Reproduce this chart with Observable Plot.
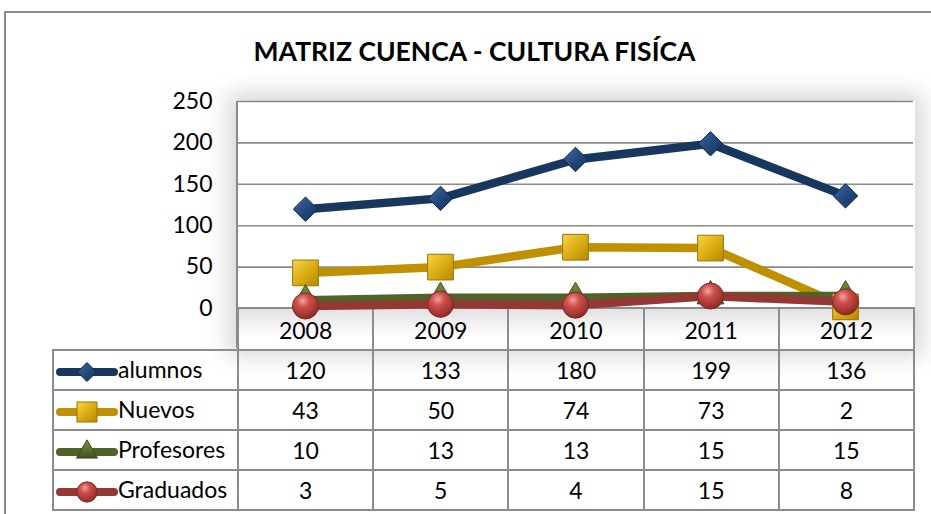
<!DOCTYPE html>
<html><head><meta charset="utf-8">
<script src="https://cdn.jsdelivr.net/npm/d3@7"></script>
<script src="https://cdn.jsdelivr.net/npm/@observablehq/plot@0.6"></script>
<style>
body{margin:0;background:#fff;overflow:hidden;font-family:Lato, sans-serif;}
#wrap{position:relative;width:931px;height:514px;overflow:hidden;background:#fff;}
#frame{position:absolute;left:4px;top:11px;width:1000px;height:600px;border:2px solid #8a8a8a;}
#title{position:absolute;left:9px;width:931px;top:35px;text-align:center;font:bold 26.5px Lato, sans-serif;color:#000;}
#shadow{position:absolute;left:236px;top:101px;width:677px;height:247px;box-shadow:0 0 22px 8px rgba(0,0,0,0.16);background:#fff;border-left:2px solid #8a8a8a;}
#tbl{position:absolute;left:52px;top:307px;border-collapse:collapse;table-layout:fixed;font:23px Lato, sans-serif;color:#000;}
#tbl td{border:2px solid #8c8c8c;height:38px;padding:0;text-align:center;}
#tbl tr.hdr td{background:linear-gradient(#e2e2e2,#ffffff 70%);}
#tbl tr.hdr td.blank{border-top:none;border-left:none;background:transparent;}
#tbl td.lab{text-align:left;padding-left:2px;white-space:nowrap;}
#tbl td.lab svg{vertical-align:middle;}
#chart{position:absolute;left:0;top:0;}
</style></head>
<body><div id="wrap"><div id="frame"></div><div id="title"></div><div id="shadow"></div><table id="tbl"></table><div id="chart"></div></div>
<script>
const title = "MATRIZ CUENCA - CULTURA FISÍCA";
const years = ["2008", "2009", "2010", "2011", "2012"];
const seriesNames = ["alumnos", "Nuevos", "Profesores", "Graduados"];
const alumnos = [120, 133, 180, 199, 136];
const nuevos = [43, 50, 74, 73, 2];
const profesores = [10, 13, 13, 15, 15];
const graduados = [3, 5, 4, 15, 8];
const yTicks = [0, 50, 100, 150, 200, 250];
const lineColors = ["#17375E", "#BF9000", "#4F6228", "#953735"];
const markerFills = ["url(#gDia)", "url(#gSq)", "url(#gTri)", "url(#gCir)"];
const markerStrokes = ["#10284a", "#9a7400", "#3b4a1d", "#7a2a28"];
const symbols = ["diamond2", "square", "triangle", "circle"];
const radii = [11, 14.5, 10, 13];

const valuesBySeries = [alumnos, nuevos, profesores, graduados];
const data = seriesNames.flatMap((s, i) => years.map((y, j) => ({series: s, year: y, value: valuesBySeries[i][j]})));

document.getElementById("title").textContent = title;

const marks = [Plot.ruleY(yTicks.slice(1), {stroke: "#8a8a8a", strokeWidth: 1.6})];
seriesNames.forEach((s, i) => {
  marks.push(Plot.line(data.filter(d => d.series === s), {x: "year", y: "value", stroke: lineColors[i], strokeWidth: 8.5, strokeLinejoin: "round"}));
});
seriesNames.forEach((s, i) => {
  marks.push(Plot.dot(data.filter(d => d.series === s), {x: "year", y: "value", symbol: symbols[i], r: radii[i], fill: markerFills[i], stroke: markerStrokes[i], strokeWidth: 1}));
});

const svg = Plot.plot({
  width: 931, height: 348,
  marginLeft: 237, marginRight: 18, marginTop: 101, marginBottom: 40,
  style: {background: "transparent", fontFamily: "Lato, sans-serif", fontSize: "23px", color: "#000", overflow: "visible"},
  x: {type: "point", domain: years, padding: 0.5, axis: null},
  y: {domain: [0, 250], ticks: yTicks, tickSize: 0, tickPadding: 25, label: null, tickFormat: d => d},
  marks
});

const defs = d3.select(svg).insert("defs", ":first-child");
function lin(id, stops, x2 = 1, y2 = 1) {
  const g = defs.append("linearGradient").attr("id", id).attr("x1", 0).attr("y1", 0).attr("x2", x2).attr("y2", y2);
  stops.forEach(([o, c]) => g.append("stop").attr("offset", o).attr("stop-color", c));
}
function rad(id, stops) {
  const g = defs.append("radialGradient").attr("id", id).attr("cx", "40%").attr("cy", "30%").attr("r", "70%");
  stops.forEach(([o, c]) => g.append("stop").attr("offset", o).attr("stop-color", c));
}
lin("gDia", [[0, "#3f6aa6"], [0.5, "#24497e"], [1, "#12305a"]]);
lin("gSq", [[0, "#f6d54a"], [0.5, "#dcae14"], [1, "#b48800"]]);
lin("gTri", [[0, "#7a9440"], [1, "#3f5120"]], 0, 1);
rad("gCir", [[0, "#f1a3a0"], [0.35, "#d0504c"], [1, "#8e2a27"]]);
document.getElementById("chart").appendChild(svg);

// data table
const tbl = d3.select("#tbl");
const cols = tbl.append("colgroup");
cols.append("col").attr("width", 185);
years.forEach(() => cols.append("col").attr("width", 135.2));
const hdr = tbl.append("tr").attr("class", "hdr");
hdr.append("td").attr("class", "blank");
years.forEach(y => hdr.append("td").style("vertical-align", "middle").style("padding-top", "2px").text(y));
seriesNames.forEach((s, i) => {
  const tr = tbl.append("tr");
  const lab = tr.append("td").attr("class", "lab");
  const sw = lab.append("svg").attr("width", 62).attr("height", 26);
  sw.append("defs").html(defs.html());
  sw.append("line").attr("x1", 4).attr("x2", 58).attr("y1", 13).attr("y2", 13)
    .attr("stroke", lineColors[i]).attr("stroke-width", 8).attr("stroke-linecap", "round");
  const sym = {diamond2: d3.symbolDiamond2, square: d3.symbolSquare, triangle: d3.symbolTriangle, circle: d3.symbolCircle}[symbols[i]];
  const rr = radii[i] * 0.78;
  sw.append("path").attr("transform", "translate(31,13)")
    .attr("d", d3.symbol(sym, Math.PI * rr * rr)())
    .attr("fill", markerFills[i]).attr("stroke", markerStrokes[i]);
  lab.append("span").text(s);
  valuesBySeries[i].forEach(v => tr.append("td").text(v));
});
</script></body></html>
